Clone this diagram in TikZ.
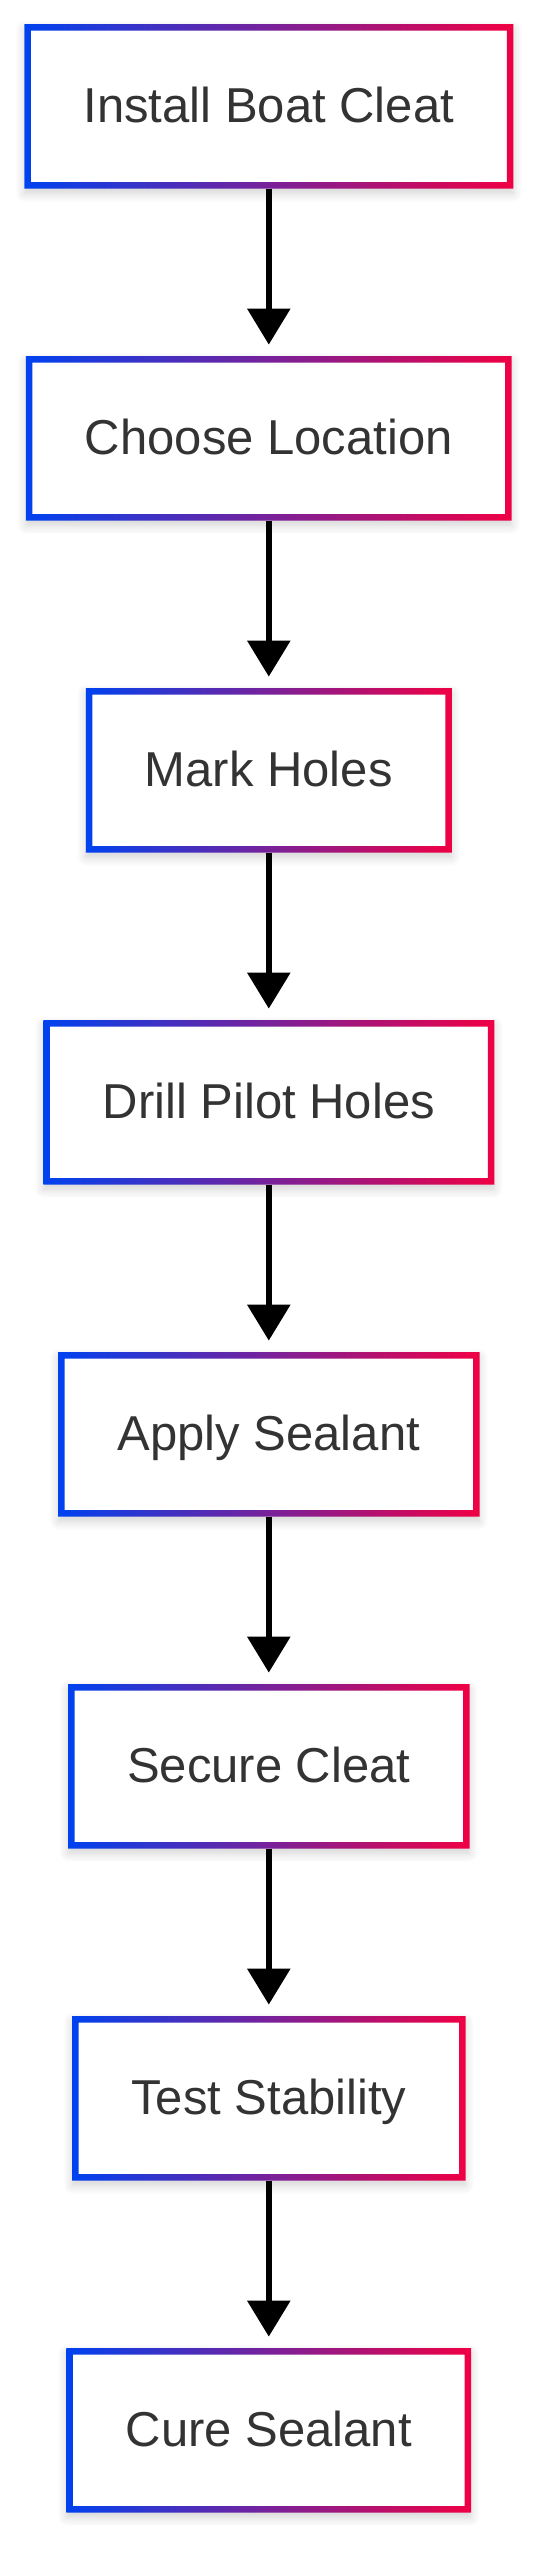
\documentclass[tikz,border=0pt]{standalone}
\usepackage{fontspec}
\setmainfont{Liberation Sans}
\usetikzlibrary{arrows.meta,shadows.blur}
\definecolor{gblue}{RGB}{0,66,240}
\definecolor{gred}{RGB}{240,0,68}
\definecolor{txtgray}{RGB}{51,51,51}
\newcommand\gframe[1]{%
  \shade[left color=gblue,right color=gred,even odd rule]
    (#1.south west) rectangle (#1.north east)
    ([shift={(6.5pt,6.5pt)}]#1.south west) rectangle ([shift={(-6.5pt,-6.5pt)}]#1.north east);}
\begin{document}
\begin{tikzpicture}[x=1pt,y=1pt,
  stepbox/.style={rectangle, minimum height=164pt, inner sep=0pt, fill=white,
    text=txtgray, font=\fontsize{49}{59}\selectfont, text height=35.5pt, text depth=3pt,
    blur shadow={shadow xshift=0pt, shadow yshift=-5pt, shadow blur radius=9pt,
      shadow blur steps=12, shadow opacity=18}},
  flow/.style={line width=6pt, -{Triangle[width=42pt,length=36pt]}, shorten >=11.5pt}]
\useasboundingbox (0,0) rectangle (543,-2560);
\node[stepbox, minimum width=488.7pt] (n1) at (268.8,-106.3) {Install Boat Cleat};
\node[stepbox, minimum width=485.3pt] (n2) at (268.8,-438.3) {Choose Location};
\node[stepbox, minimum width=365.7pt] (n3) at (268.8,-770.3) {Mark Holes};
\node[stepbox, minimum width=450.7pt] (n4) at (268.8,-1102.3) {Drill Pilot Holes};
\node[stepbox, minimum width=421pt] (n5) at (268.8,-1434.3) {Apply Sealant};
\node[stepbox, minimum width=401pt] (n6) at (268.8,-1766.3) {Secure Cleat};
\node[stepbox, minimum width=393pt] (n7) at (268.8,-2098.3) {Test Stability};
\node[stepbox, minimum width=404.3pt] (n8) at (268.8,-2430.3) {Cure Sealant};
\foreach \n in {n1,n2,n3,n4,n5,n6,n7,n8}{\gframe{\n}}
\draw[flow] (n1.south) -- (n2.north);
\draw[flow] (n2.south) -- (n3.north);
\draw[flow] (n3.south) -- (n4.north);
\draw[flow] (n4.south) -- (n5.north);
\draw[flow] (n5.south) -- (n6.north);
\draw[flow] (n6.south) -- (n7.north);
\draw[flow] (n7.south) -- (n8.north);
\end{tikzpicture}
\end{document}
